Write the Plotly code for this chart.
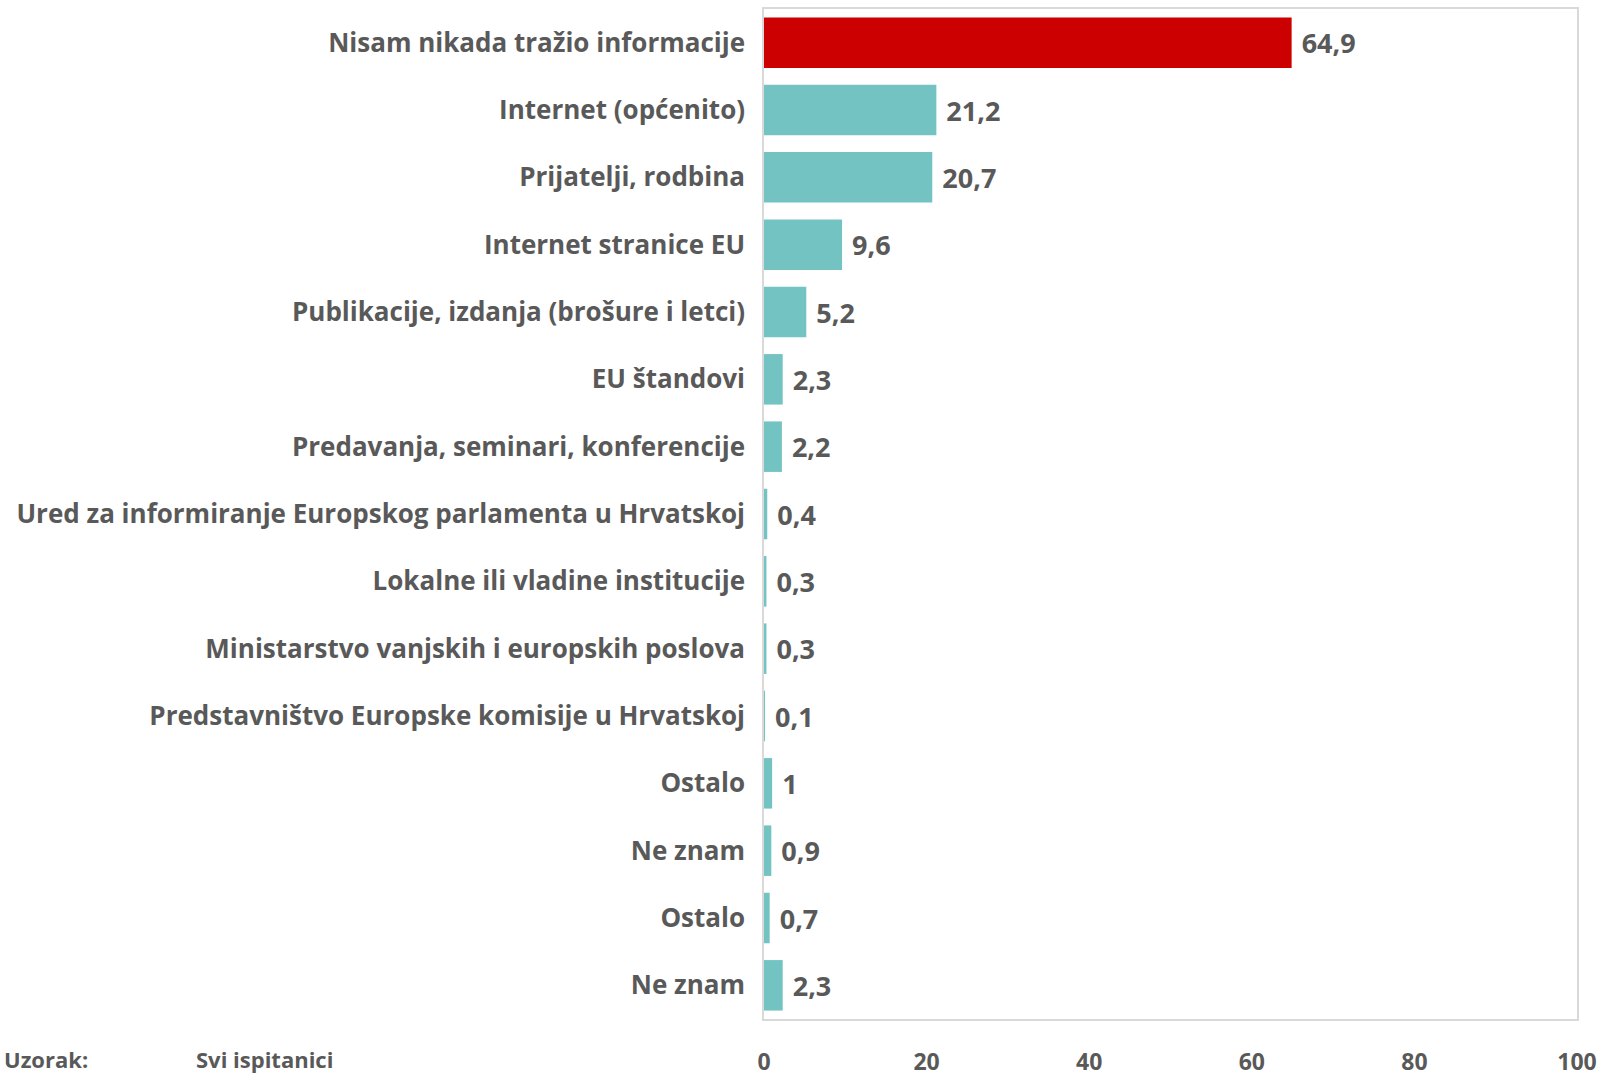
import plotly.graph_objects as go

categories = [
    "Nisam nikada tražio informacije",
    "Internet (općenito)",
    "Prijatelji, rodbina",
    "Internet stranice EU",
    "Publikacije, izdanja (brošure i letci)",
    "EU štandovi",
    "Predavanja, seminari, konferencije",
    "Ured za informiranje Europskog parlamenta u Hrvatskoj",
    "Lokalne ili vladine institucije",
    "Ministarstvo vanjskih i europskih poslova",
    "Predstavništvo Europske komisije u Hrvatskoj",
    "Ostalo",
    "Ne znam",
    "Ostalo",
    "Ne znam",
]
values = [64.9, 21.2, 20.7, 9.6, 5.2, 2.3, 2.2, 0.4, 0.3, 0.3, 0.1, 1, 0.9, 0.7, 2.3]
value_labels = ["64,9", "21,2", "20,7", "9,6", "5,2", "2,3", "2,2", "0,4", "0,3", "0,3", "0,1", "1", "0,9", "0,7", "2,3"]
x_ticks = [0, 20, 40, 60, 80, 100]

RED = "#CC0000"
TEAL = "#72C3C1"
GREY = "#595959"
FONT = "Open Sans"

positions = list(range(len(categories)))
colors = [RED] + [TEAL] * (len(categories) - 1)

fig = go.Figure(go.Bar(
    x=values,
    y=positions,
    orientation="h",
    marker=dict(color=colors, line=dict(width=0)),
    text=[" " + t for t in value_labels],
    textposition="outside",
    textfont=dict(family=FONT, size=27, color=GREY, weight="bold"),
    cliponaxis=False,
    width=0.75,
))

fig.update_layout(
    width=1599, height=1076,
    margin=dict(l=764, r=22, t=9, b=57, autoexpand=False),
    paper_bgcolor="white", plot_bgcolor="white",
    showlegend=False,
    font=dict(family=FONT, color=GREY, size=26, weight="bold"),
    xaxis=dict(
        range=[0, 100], tickvals=x_ticks, ticktext=[str(t) for t in x_ticks],
        showgrid=False, zeroline=False, automargin=False,
        showline=True, linecolor="#D9D9D9", linewidth=1.5, mirror=True,
        tickfont=dict(family=FONT, size=23, color=GREY, weight="bold"),
        ticks="", ticklabelstandoff=22,
    ),
    yaxis=dict(
        tickvals=positions, ticktext=categories,
        range=[len(categories) - 0.5, -0.5], automargin=False,
        showgrid=False, zeroline=False,
        showline=True, linecolor="#D9D9D9", linewidth=1.5, mirror=True,
        tickfont=dict(family=FONT, size=26, color=GREY, weight="bold"),
        ticks="", ticklabelstandoff=12,
    ),
)

fig.add_annotation(text="Uzorak:", x=0, xref="paper", xanchor="left", xshift=-762,
                   y=0, yref="paper", yanchor="middle", yshift=-40, showarrow=False,
                   font=dict(family=FONT, size=22, color=GREY, weight="bold"))
fig.add_annotation(text="Svi ispitanici", x=0, xref="paper", xanchor="left", xshift=-570,
                   y=0, yref="paper", yanchor="middle", yshift=-40, showarrow=False,
                   font=dict(family=FONT, size=22, color=GREY, weight="bold"))

fig.write_html(
    "out.html",
    config={"displayModeBar": False},
    post_script="document.body.style.margin='0';document.body.style.overflow='hidden';",
)
